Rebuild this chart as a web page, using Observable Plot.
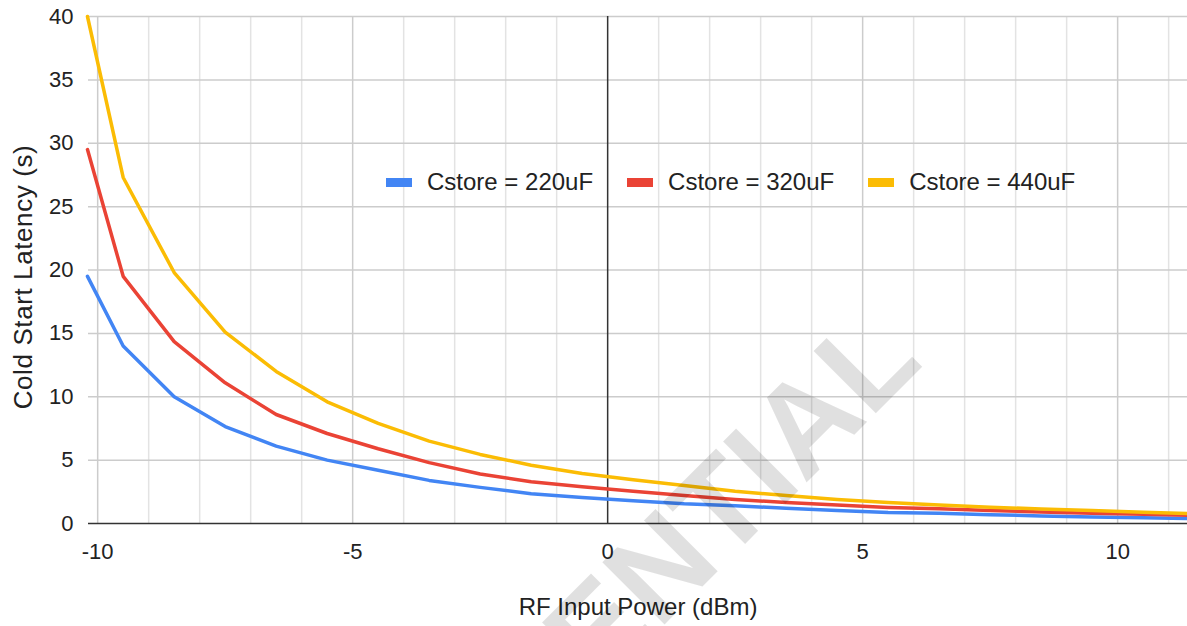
<!DOCTYPE html>
<html><head><meta charset="utf-8">
<script src="https://cdn.jsdelivr.net/npm/d3@7"></script>
<script src="https://cdn.jsdelivr.net/npm/@observablehq/plot@0.6"></script>
<style>
body{margin:0;background:#fff;font-family:"Liberation Sans",Arial,sans-serif;}
#wrap{position:relative;width:1187px;height:626px;overflow:hidden;background:#fff;}
#legend{position:absolute;top:170px;left:386px;display:flex;align-items:center;font-size:24px;line-height:24px;color:#222;white-space:nowrap;}
#legend .item{display:flex;align-items:center;margin-right:34px;}
#legend .sw{width:26px;height:9px;margin-right:15px;}
</style></head>
<body><div id="wrap"><div id="legend"></div></div>
<script>
const xValues   = [-10.2, -9.5, -8.5, -7.5, -6.5, -5.5, -4.5, -3.5, -2.5, -1.5, -0.5, 0.5, 1.5, 2.5, 3.5, 4.5, 5.5, 6.5, 7.5, 8.5, 9.5, 10.5, 11.4];
const lat220uF  = [19.5, 14.0, 10.0, 7.65, 6.1, 5.0, 4.2, 3.4, 2.85, 2.35, 2.05, 1.8, 1.55, 1.4, 1.2, 1.03, 0.87, 0.8, 0.7, 0.6, 0.52, 0.45, 0.4];
const lat320uF  = [29.5, 19.5, 14.35, 11.1, 8.6, 7.1, 5.9, 4.8, 3.9, 3.3, 2.9, 2.55, 2.2, 1.9, 1.65, 1.45, 1.27, 1.17, 1.03, 0.9, 0.8, 0.72, 0.65];
const lat440uF  = [40.0, 27.3, 19.8, 15.1, 12.0, 9.6, 7.9, 6.5, 5.45, 4.6, 3.95, 3.45, 3.0, 2.55, 2.2, 1.9, 1.65, 1.45, 1.28, 1.15, 1.02, 0.88, 0.78];
const seriesNames  = ["Cstore = 220uF", "Cstore = 320uF", "Cstore = 440uF"];
const seriesColors = ["#4285F4", "#EA4335", "#FBBC04"];
const xTicks = [-10, -5, 0, 5, 10];
const yTicks = [0, 5, 10, 15, 20, 25, 30, 35, 40];
const xGrid  = d3.range(-10, 12);
const xTitle = "RF Input Power (dBm)";
const yTitle = "Cold Start Latency (s)";
const watermark = "CONFIDENTIAL";

const seriesValues = [lat220uF, lat320uF, lat440uF];
const rows = seriesNames.flatMap((name, k) => xValues.map((x, i) => ({x, y: seriesValues[k][i], series: name})));

const chart = Plot.plot({
  width: 1187, height: 626,
  marginLeft: 88, marginRight: 0, marginTop: 16, marginBottom: 103,
  x: {domain: [-10.18, 11.37]},
  y: {domain: [0, 40]},
  color: {domain: seriesNames, range: seriesColors},
  style: {fontFamily: '"Liberation Sans", Arial, sans-serif', fontSize: "22px", color: "#222", background: "#fff", overflow: "hidden"},
  marks: [
    Plot.ruleX(xGrid.filter(v => v % 5 !== 0), {stroke: "#e3e3e3", strokeWidth: 1.5}),
    Plot.ruleX(xGrid.filter(v => v % 5 === 0 && v !== 0), {stroke: "#cccccc", strokeWidth: 1.5}),
    Plot.ruleY(yTicks.filter(v => v !== 0), {stroke: "#cccccc", strokeWidth: 1.5}),
    Plot.ruleX([0], {stroke: "#333", strokeWidth: 1.5}),
    Plot.ruleY([0], {stroke: "#333", strokeWidth: 1.5}),
    Plot.line(rows, {x: "x", y: "y", z: "series", stroke: "series", strokeWidth: 3.5, strokeLinejoin: "round"}),
    Plot.axisX({ticks: xTicks, tickSize: 0, tickPadding: 20, tickFormat: d => String(d), label: null}),
    Plot.axisY({ticks: yTicks, tickSize: 0, tickPadding: 15, tickFormat: d => String(d), label: null}),
    Plot.text([xTitle], {frameAnchor: "bottom", dy: 91, fontSize: 24, fill: "#222"}),
    Plot.text([yTitle], {frameAnchor: "left", textAnchor: "middle", dx: -65, dy: 7, rotate: -90, fontSize: 26, fill: "#222", className: "ytitle"})
  ]
});
const wrap = document.getElementById("wrap");
wrap.insertBefore(chart, wrap.firstChild);
d3.select(chart).selectAll(".ytitle text").attr("letter-spacing", "0.6px");

// watermark overlay
d3.select(chart).append("text")
  .attr("transform", "translate(925,364) rotate(-45)")
  .attr("text-anchor", "end")
  .attr("font-family", '"Liberation Sans", Arial, sans-serif')
  .attr("font-weight", "bold")
  .attr("font-size", 128)
  .attr("fill", "#000")
  .attr("fill-opacity", 0.12)
  .text(watermark);

const legend = d3.select("#legend");
seriesNames.forEach((name, k) => {
  const it = legend.append("div").attr("class", "item");
  it.append("div").attr("class", "sw").style("background", seriesColors[k]);
  it.append("span").text(name);
});
</script>
</body></html>
